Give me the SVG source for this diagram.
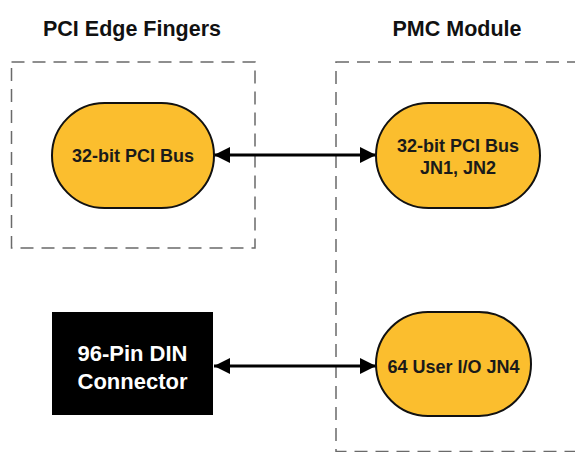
<svg xmlns="http://www.w3.org/2000/svg" width="575" height="452" viewBox="0 0 575 452">
  <defs>
    <marker id="ah" viewBox="0 0 16 16" refX="16" refY="8" markerWidth="16" markerHeight="16" markerUnits="userSpaceOnUse" orient="auto-start-reverse">
      <path d="M0,0 L16,8 L0,16 Z" fill="#000"/>
    </marker>
    <style>
      .title { font-family: "Liberation Sans", Arial, sans-serif; font-weight: bold; font-size: 21.5px; fill: #111; text-anchor: middle; }
      .lbl { font-family: "Liberation Sans", Arial, sans-serif; font-weight: bold; font-size: 18px; fill: #1a1a1a; text-anchor: middle; }
      .lblw { font-family: "Liberation Sans", Arial, sans-serif; font-weight: bold; font-size: 22px; fill: #fff; text-anchor: middle; }
      .group { fill: none; stroke: #6a6a6a; stroke-width: 1.5; stroke-dasharray: 13 8; }
      .pill { fill: #FBBE2E; stroke: #111; stroke-width: 2; }
      .conn { stroke: #000; stroke-width: 3; fill: none; marker-start: url(#ah); marker-end: url(#ah); }
    </style>
  </defs>
  <rect width="575" height="452" fill="#fff"/>

  <g id="group-pci-edge-fingers">
    <rect class="group" x="11.5" y="62" width="243.5" height="186"/>
    <text class="title" x="132" y="36">PCI Edge Fingers</text>
  </g>
  <g id="group-pmc-module">
    <rect class="group" x="336" y="62" width="241" height="389.5"/>
    <text class="title" x="457" y="36">PMC Module</text>
  </g>

  <g id="connectors">
    <line class="conn" x1="214" y1="155" x2="376" y2="155"/>
    <line class="conn" x1="214" y1="366" x2="376" y2="366"/>
  </g>

  <g id="node-pci-bus-edge">
    <rect class="pill" x="52" y="103" width="162" height="105" rx="52.5" ry="52.5"/>
    <text class="lbl" x="133" y="161.5">32-bit PCI Bus</text>
  </g>
  <g id="node-pci-bus-pmc">
    <rect class="pill" x="376" y="103" width="164" height="105" rx="52.5" ry="52.5"/>
    <text class="lbl" x="458" y="151.5">32-bit PCI Bus</text>
    <text class="lbl" x="458" y="173.5">JN1, JN2</text>
  </g>
  <g id="node-din">
    <rect x="52" y="312" width="161" height="103" fill="#000"/>
    <text class="lblw" x="132.5" y="360.5">96-Pin DIN</text>
    <text class="lblw" x="132.5" y="389">Connector</text>
  </g>
  <g id="node-user-io">
    <rect class="pill" x="376" y="312" width="155" height="104" rx="52" ry="52"/>
    <text class="lbl" x="453.5" y="372.5">64 User I/O JN4</text>
  </g>
</svg>
